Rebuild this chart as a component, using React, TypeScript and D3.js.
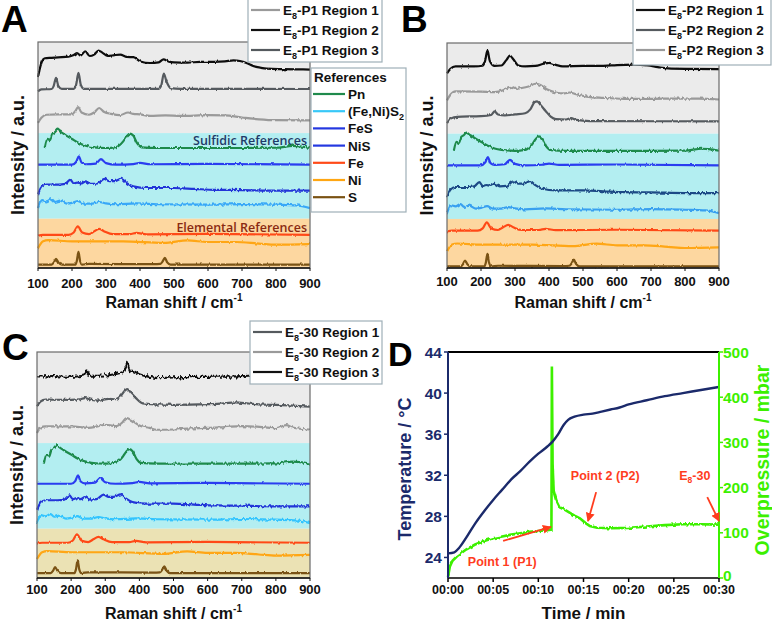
import React from 'react';
import * as d3 from 'd3';

type Pt = [number, number];

// ---------- Raman data (intensity in a.u., already offset for stacking) ----------
const ramanTicks = [100, 200, 300, 400, 500, 600, 700, 800, 900];

// panel A samples
const e8p1Region2: Pt[] = [[100,84.5],[105,88],[112,91.5],[120,92.8],[140,93],[160,93.2],[190,93.5],[205,94.2],[215,95.1],[225,94],[239,95.9],[252,93.8],[265,94.4],[278,96.2],[290,95.2],[305,93.8],[325,94.2],[342,94.4],[361,93.4],[381,93.3],[401,91.4],[430,90.7],[455,91],[469,92.3],[485,91.3],[500,91],[540,90.9],[577,91.2],[620,91.2],[650,91.4],[675,91.9],[694,91.6],[715,90.6],[733,89.4],[755,88.6],[773,88.2],[820,88],[860,87.9],[900,87.8]];
const e8p1Region3: Pt[] = [[100,78.2],[110,79],[140,79.2],[146,80.5],[153,84.1],[160,80.5],[170,79.3],[205,79.3],[212,81],[219,86.3],[226,81],[235,79.3],[455,79.3],[463,81],[470,86],[478,82.5],[490,79.6],[520,79.3],[900,79.2]];
const e8p1Region1: Pt[] = [[100,64.2],[110,66.5],[125,67.8],[160,68],[200,68],[210,69.5],[218,71.2],[228,68.8],[250,67.8],[265,68.8],[280,70.8],[295,69],[315,68.2],[340,67.6],[365,68.8],[380,68.2],[400,68],[430,67.3],[475,67.5],[520,67.3],[600,67.6],[650,67.5],[700,66.6],[750,65.8],[800,65.4],[900,65.3]];

// panel B samples
const e8p2Region1: Pt[] = [[100,86.5],[110,88.5],[125,89.6],[180,89.6],[205,89.9],[212,92],[219,96.7],[226,92],[240,89.8],[260,90],[275,92.5],[285,94.4],[295,92.8],[310,90],[330,89.6],[360,89.8],[385,90.8],[400,91.2],[420,90.3],[440,89.6],[500,89.8],[560,89.8],[600,90.2],[650,90.4],[690,90],[720,89.3],[750,88.7],[800,88.5],[900,88.4]];
const e8p2Region3: Pt[] = [[100,74.5],[110,77],[125,78.5],[200,78.4],[240,78.2],[265,79],[285,80.5],[300,79.6],[320,80],[340,80.7],[360,81.9],[375,81.3],[395,79.3],[420,78],[445,77.6],[460,78],[480,77.2],[510,76.2],[560,75.6],[620,75.2],[700,75.2],[780,75.3],[840,75.3],[900,74.9]];
const e8p2Region2: Pt[] = [[100,64.4],[112,66.5],[130,67.2],[200,67.5],[230,68],[240,69.6],[250,68.2],[270,67.8],[300,68.3],[330,68.8],[345,70.5],[358,73.8],[365,74.1],[375,72.5],[390,69.8],[405,67.3],[420,66.2],[450,66],[465,66.6],[480,65.8],[520,65.3],[900,65.2]];

// panel C samples
const e830Region3: Pt[] = [[100,89.2],[150,89.3],[200,89],[235,89.5],[245,91.4],[255,89.5],[300,89.6],[330,90.3],[350,91],[360,93],[365,95],[372,92],[385,91.4],[400,90.2],[430,89],[460,88.4],[480,88.6],[500,88.8],[550,88.9],[600,89],[650,89.1],[700,89.3],[720,89.5],[800,89.4],[900,89.3]];
const e830Region1: Pt[] = [[100,76],[110,78],[125,78.9],[200,78.8],[225,79],[240,79.6],[260,78.8],[280,78.5],[310,79.3],[330,79.1],[345,80.5],[358,83],[365,83.6],[375,82],[390,79.6],[410,77.3],[450,76.8],[500,76.6],[600,76.9],[650,77.3],[680,77.7],[720,77.2],[750,76.8],[800,76.6],[850,76.3],[900,75.8]];
const e830Region2: Pt[] = [[100,64.2],[110,66.5],[125,67.1],[200,67.1],[250,66.4],[280,67.2],[300,67.8],[330,67.2],[350,68.8],[362,70.8],[375,70],[400,67.5],[430,66.4],[450,65.6],[500,65.7],[550,66.2],[600,66.4],[650,66.8],[700,67.2],[760,66.8],[800,66.3],[830,67.6],[850,66.6],[900,65.7]];

// reference spectra relative to their own baseline
const refPn: Pt[] = [[120,0],[128,4],[135,3.5],[142,6.2],[150,7],[157,8.1],[165,7.3],[180,5.8],[200,4],[220,2.2],[240,1],[260,0.4],[300,0],[330,0.4],[350,2.8],[360,5],[370,6.4],[380,5.5],[392,2],[405,0.3],[450,0],[600,0],[700,0],[800,0.1],[850,0.9],[870,0.7],[900,0]];
const refNiS: Pt[] = [[100,0],[200,0],[212,1.2],[220,3.7],[228,1],[240,0.2],[270,0.5],[285,2.5],[300,0.7],[330,0],[380,0.3],[400,0.8],[430,0.2],[600,0.4],[900,0]];
const refFeS: Pt[] = [[100,-1.5],[110,1.5],[125,2.7],[160,2.7],[180,3],[195,4.9],[205,3.2],[215,3.6],[228,3.2],[240,4.1],[255,3],[275,3.2],[295,5.2],[310,4.2],[325,4.2],[345,5.3],[360,3.5],[380,1.9],[420,1.2],[500,1.2],[560,0.8],[620,0.4],[700,0.3],[800,0],[900,0]];
const refFeNiS2: Pt[] = [[100,-1.5],[112,2],[125,1.5],[140,2.5],[150,1.3],[165,1.8],[185,0.5],[200,0.8],[218,1.6],[235,0.5],[260,0.5],[280,1.2],[300,0.6],[330,0.2],[390,0.6],[450,0.2],[600,0],[700,0.3],[800,0],[860,-0.3],[900,-1.5]];
const refFe: Pt[] = [[100,-0.4],[115,0],[190,0],[205,1],[217,3.7],[230,1],[250,0.3],[265,1.5],[280,2.6],[295,1.5],[320,0.3],[370,0.3],[390,0.8],[420,0.2],[600,0.4],[900,0]];
const refNi: Pt[] = [[100,-1.5],[115,1.5],[130,2],[200,1.5],[350,1.5],[470,0.8],[540,1.9],[600,1.2],[680,1.2],[750,0.5],[800,0],[900,0.3]];
const refS: Pt[] = [[100,0],[140,0],[147,1],[153,2.6],[160,1],[170,0],[210,0],[214,1.5],[219,5.6],[224,1.5],[230,0],[250,0.3],[440,0.2],[460,0.3],[467,1.5],[473,3],[480,1],[490,0],[900,0]];

const refSpectra = [refPn, refNiS, refFeS, refFeNiS2, refFe, refNi, refS];
const refBaselinesA = [53.1, 45.7, 34.2, 28.0, 14.7, 10.3, 1.5];
const refBaselinesB = [52.1, 45.6, 33.3, 25.9, 16.6, 8.9, 0.7];
const refBaselinesC = [50.6, 41.7, 31.7, 25.8, 15.6, 9.9, 2.2];
const refNoise = ['med', 'light', 'med', 'med', 'light', 'light', 'light'];

const refLegendNames = ['Pn', '(Fe,Ni)S', 'FeS', 'NiS', 'Fe', 'Ni', 'S'];
const refLegendColors = ['#1f8a4c', '#38c8f8', '#2438e0', '#2438e0', '#ff4a18', '#ffa612', '#7a5212'];

const bandEdges = [100, 59.7, 21.8, 0];

// ---------- panel D data ----------
const timeTicks = [0, 5, 10, 15, 20, 25, 30];
const tempTicks = [24, 28, 32, 36, 40, 44];
const pressTicks = [0, 100, 200, 300, 400, 500];
const temperature: Pt[] = [[0,24.4],[0.7,24.5],[1.2,24.9],[2,25.9],[3,27.3],[4,28.5],[5,29.6],[6,30.6],[7,31.6],[8,32.4],[9,33.3],[10,34.1],[11,34.8],[11.6,35.3],[12.2,36.0],[12.8,36.9],[13.3,37.4],[14,37.7],[15,37.9],[16,38.0],[17,38.2],[18,38.4],[19,38.6],[20,38.9],[22,39.3],[24,39.7],[26,40.0],[28,40.3],[30,40.6]];
const overpressure: Pt[] = [[0,2],[0.2,25],[0.5,38],[1,48],[2,63],[3,74],[4,82],[5,88],[6,92],[7,96],[8,99],[9,102],[10,104],[11,106],[11.45,107],[11.5,468],[11.58,250],[11.7,193],[12,172],[12.4,156],[13,150],[13.5,144],[14,138],[14.6,132],[15.2,122],[15.7,115],[16.5,111],[18,110],[20,111],[22,114],[24,117],[26,119],[28,119],[30,118]];

const FONT = '"Liberation Sans", Arial, sans-serif';

type Sample = { data: Pt[]; color: string; noise: string };
type LegendItem = { label: string; color: string };

const Sub8 = ({ rest }: { rest: string }) => (
  <>
    <tspan>E</tspan>
    <tspan dy={3.5} fontSize={9}>8</tspan>
    <tspan dy={-3.5}>{rest}</tspan>
  </>
);

function RamanPanel(props: {
  x0: number; x1: number; y0: number; y1: number;
  letter: string; letterX: number; letterY: number;
  samples: Sample[]; baselines: number[]; refColors: string[];
  bandFills: string[]; legend: LegendItem[];
  legendBox: { x: number; y: number; w: number; h: number };
  tickOff: number; titleOff: number;
  showBandLabels?: boolean;
}) {
  const { x0, x1, y0, y1 } = props;
  const x = d3.scaleLinear().domain([100, 900]).range([x0, x1]);
  const y = d3.scaleLinear().domain([0, 100]).range([y1, y0]);
  const line = d3.line<Pt>().x(d => x(d[0])).y(d => y(d[1])).curve(d3.curveMonotoneX);
  const lb = props.legendBox;
  return (
    <g fontFamily={FONT}>
      {props.bandFills.map((f, i) => (
        <rect key={i} x={x0} y={y(bandEdges[i])} width={x1 - x0} height={y(bandEdges[i + 1]) - y(bandEdges[i])} fill={f} />
      ))}
      {props.showBandLabels && (
        <g fontFamily='"Open Sans", sans-serif' fontWeight={600} fontSize={12.5} textAnchor="end">
          <text x={x1 - 3} y={y(bandEdges[1]) + 12} fill="#1f3a68">Sulfidic References</text>
          <text x={x1 - 3} y={y(bandEdges[2]) + 13} fill="#8a2a12">Elemental References</text>
        </g>
      )}
      {refSpectra.map((s, i) => (
        <path key={'r' + i} d={line(s.map(p => [p[0], p[1] + props.baselines[i]] as Pt)) || ''} fill="none"
          stroke={props.refColors[i]} strokeWidth={2.2} filter={`url(#noise-${refNoise[i]})`} />
      ))}
      {props.samples.map((s, i) => (
        <path key={'s' + i} d={line(s.data) || ''} fill="none" stroke={s.color} strokeWidth={2.2} filter={`url(#noise-${s.noise})`} />
      ))}
      <rect x={x0} y={y0} width={x1 - x0} height={y1 - y0} fill="none" stroke="#6a6a6a" strokeWidth={1.2} />
      <line x1={x0} x2={x1} y1={y1} y2={y1} stroke="#111" strokeWidth={1.5} />
      {ramanTicks.map(t => (
        <g key={t}>
          <line x1={x(t)} x2={x(t)} y1={y1} y2={y1 + 3} stroke="#111" />
          <text x={x(t)} y={y1 + props.tickOff} textAnchor="middle" fontSize={13} fontWeight="bold" fill="#111">{t}</text>
        </g>
      ))}
      <text x={(x0 + x1) / 2} y={y1 + props.titleOff} textAnchor="middle" fontSize={16} fontWeight="bold" fill="#111">
        Raman shift / cm<tspan dy={-7} fontSize={10}>-1</tspan>
      </text>
      <text transform={`translate(${x0 - 20},${(y0 + y1) / 2}) rotate(-90)`} textAnchor="middle" dy="0.35em" fontSize={18} fontWeight="bold" fill="#111">
        Intensity / a.u.
      </text>
      <text x={props.letterX} y={props.letterY} fontSize={37} fontWeight="bold" fill="#000">{props.letter}</text>
      <rect x={lb.x} y={lb.y} width={lb.w} height={lb.h} fill="#fff" stroke="#9fb0b8" strokeWidth={1.2} />
      {props.legend.map((l, i) => {
        const cy = lb.y + 11 + i * 20;
        return (
          <g key={i}>
            <line x1={lb.x + 3} x2={lb.x + 32} y1={cy} y2={cy} stroke={l.color} strokeWidth={2.2} />
            <text x={lb.x + 35} y={cy + 5} fontSize={13.5} fontWeight="bold" fill="#111"><Sub8 rest={l.label} /></text>
          </g>
        );
      })}
    </g>
  );
}

function RefLegend() {
  const bx = 311, by = 68;
  return (
    <g fontFamily={FONT} fontWeight="bold">
      <rect x={bx} y={by} width={95} height={144} fill="#fff" stroke="#9fb0b8" strokeWidth={1.2} />
      <text x={bx + 3} y={by + 14} fontSize={13.5} fill="#111">References</text>
      {refLegendNames.map((n, i) => {
        const cy = by + 26 + i * 17.2;
        return (
          <g key={n}>
            <line x1={bx + 2} x2={bx + 34} y1={cy} y2={cy} stroke={refLegendColors[i]} strokeWidth={2.2} />
            <text x={bx + 37} y={cy + 5} fontSize={13.5} fill="#111">
              {n}{n.startsWith('(') && <tspan dy={3.5} fontSize={9}>2</tspan>}
            </text>
          </g>
        );
      })}
    </g>
  );
}

function PanelD() {
  const x0 = 448, x1 = 719, y0 = 352, y1 = 578;
  const x = d3.scaleLinear().domain([0, 30]).range([x0, x1]);
  const yT = d3.scaleLinear().domain([22, 44]).range([y1, y0]);
  const yP = d3.scaleLinear().domain([0, 500]).range([y1, y0]);
  const tLine = d3.line<Pt>().x(d => x(d[0])).y(d => yT(d[1])).curve(d3.curveMonotoneX);
  const pLine = d3.line<Pt>().x(d => x(d[0])).y(d => yP(d[1]));
  const navy = '#1b2a6b', green = '#3cf000', red = '#ff3c1e';
  const arrows = [
    { from: [6.1, 82], to: [11.4, 113], text: 'Point 1 (P1)', at: [2.2, 27] },
    { from: [16.4, 190], to: [15.5, 126], text: 'Point 2 (P2)', at: [13.6, 217] },
    { from: [28.7, 179], to: [30, 126], text: '', at: [25.6, 217] },
  ];
  return (
    <g fontFamily={FONT} fontWeight="bold">
      <path d={pLine(overpressure) || ''} fill="none" stroke={green} strokeWidth={2.6} filter="url(#noise-med)" />
      <path d={tLine(temperature) || ''} fill="none" stroke={navy} strokeWidth={2.4} />
      <line x1={x0} x2={x1} y1={y0} y2={y0} stroke="#000" strokeWidth={2} />
      <line x1={x0} x2={x1} y1={y1} y2={y1} stroke="#000" strokeWidth={1.5} />
      <line x1={x0} x2={x0} y1={y0} y2={y1} stroke={navy} strokeWidth={2} />
      <line x1={x1} x2={x1} y1={y0} y2={y1} stroke={green} strokeWidth={2} />
      {tempTicks.map(t => (
        <g key={t}>
          <line x1={x0 - 4} x2={x0} y1={yT(t)} y2={yT(t)} stroke={navy} strokeWidth={1.5} />
          <text x={x0 - 6} y={yT(t)} dy="0.36em" textAnchor="end" fontSize={15.5} fill={navy}>{t}</text>
        </g>
      ))}
      {pressTicks.map(t => (
        <g key={t}>
          <line x1={x1} x2={x1 + 4} y1={yP(t)} y2={yP(t)} stroke={green} strokeWidth={1.5} />
          <text x={x1 + 4} y={yP(t) - (t === 0 ? 3 : 0)} dy="0.36em" fontSize={15.5} fill={green}>{t}</text>
        </g>
      ))}
      {timeTicks.map(t => (
        <g key={t}>
          <line x1={x(t)} x2={x(t)} y1={y1} y2={y1 + 4} stroke="#000" strokeWidth={1.5} />
          <text x={x(t)} y={y1 + 16} textAnchor="middle" fontSize={12.5} fill="#111">{`00:${String(t).padStart(2, '0')}`}</text>
        </g>
      ))}
      <text x={(x0 + x1) / 2} y={619} textAnchor="middle" fontSize={17} fill="#111">Time / min</text>
      <text transform={`translate(405,${(y0 + y1) / 2 + 4}) rotate(-90)`} textAnchor="middle" dy="0.35em" fontSize={18} fill={navy}>Temperature / °C</text>
      <text transform={`translate(762,${(y0 + y1) / 2 - 5}) rotate(-90)`} textAnchor="middle" dy="0.35em" fontSize={19.5} fill={green}>Overpressure / mbar</text>
      {arrows.map((a, i) => (
        <g key={i}>
          <line x1={x(a.from[0])} y1={yP(a.from[1])} x2={x(a.to[0])} y2={yP(a.to[1])} stroke={red} strokeWidth={1.8} markerEnd="url(#arrowRed)" />
          <text x={x(a.at[0])} y={yP(a.at[1])} fontSize={12.5} fill={red}>
            {a.text || <><tspan>E</tspan><tspan dy={3} fontSize={8.5}>8</tspan><tspan dy={-3}>-30</tspan></>}
          </text>
        </g>
      ))}
      <text x={388} y={366} fontSize={34} fill="#000">D</text>
    </g>
  );
}

const greys = { black: '#111111', dark: '#555a5e', light: '#9a9a9a' };

export default function App() {
  const refColorsA = ['#1f8a4c', '#2a3cf0', '#2236d8', '#38a8f8', '#ff4a18', '#ffa612', '#7a5212'];
  const refColorsB = ['#1f8a4c', '#2a3cf0', '#1d4a86', '#38a0f0', '#ff4a18', '#ffa612', '#7a5212'];
  const refColorsC = ['#1f8a4c', '#2a3cf0', '#2236d8', '#30c4ff', '#ff4a18', '#ffa612', '#7a5212'];
  return (
    <svg width={772} height={622} style={{ position: 'absolute', left: 0, top: 0, background: '#fff' }}>
      <defs>
        {[['light', 2.5], ['med', 4], ['heavy', 7]].map(([id, sc]) => (
          <filter key={id} id={`noise-${id}`} filterUnits="userSpaceOnUse" x={0} y={0} width={772} height={622}>
            <feTurbulence type="fractalNoise" baseFrequency="0.45 0.12" numOctaves={2} seed={3} result="t" />
            <feColorMatrix in="t" type="matrix" values="0 0 0 0 0.5  0 1 0 0 0  0 0 1 0 0  0 0 0 0 1" result="m" />
            <feDisplacementMap in="SourceGraphic" in2="m" scale={sc as number} xChannelSelector="R" yChannelSelector="G" />
          </filter>
        ))}
        <marker id="arrowRed" viewBox="0 0 10 10" refX={9} refY={5} markerWidth={5} markerHeight={5} orient="auto">
          <path d="M0,0 L10,5 L0,10 z" fill="#ff3c1e" />
        </marker>
      </defs>
      <RamanPanel x0={38} x1={310} y0={42} y1={268} letter="A" letterX={1} letterY={32}
        samples={[
          { data: e8p1Region2, color: greys.black, noise: 'light' },
          { data: e8p1Region3, color: greys.dark, noise: 'light' },
          { data: e8p1Region1, color: greys.light, noise: 'light' },
        ]}
        baselines={refBaselinesA} refColors={refColorsA}
        bandFills={['#ebebeb', '#b3eef1', '#fdd7a0']}
        legend={[
          { label: '-P1 Region 1', color: greys.light },
          { label: '-P1 Region 2', color: greys.black },
          { label: '-P1 Region 3', color: greys.dark },
        ]}
        legendBox={{ x: 248, y: -1, w: 134, h: 63 }} tickOff={20} titleOff={40} showBandLabels />
      <RefLegend />
      <RamanPanel x0={447} x1={719} y0={43} y1={268} letter="B" letterX={401} letterY={32}
        samples={[
          { data: e8p2Region1, color: greys.black, noise: 'light' },
          { data: e8p2Region3, color: greys.light, noise: 'med' },
          { data: e8p2Region2, color: greys.dark, noise: 'light' },
        ]}
        baselines={refBaselinesB} refColors={refColorsB}
        bandFills={['#ebebeb', '#b3eef1', '#fdd7a0']}
        legend={[
          { label: '-P2 Region 1', color: greys.black },
          { label: '-P2 Region 2', color: greys.dark },
          { label: '-P2 Region 3', color: greys.light },
        ]}
        legendBox={{ x: 633, y: -1, w: 138, h: 66 }} tickOff={18} titleOff={40} />
      <RamanPanel x0={37} x1={310} y0={352} y1={578} letter="C" letterX={2} letterY={360}
        samples={[
          { data: e830Region3, color: greys.black, noise: 'heavy' },
          { data: e830Region1, color: greys.dark, noise: 'med' },
          { data: e830Region2, color: greys.light, noise: 'med' },
        ]}
        baselines={refBaselinesC} refColors={refColorsC}
        bandFills={['#ebebeb', '#b3eef1', '#ebe2b4']}
        legend={[
          { label: '-30 Region 1', color: greys.dark },
          { label: '-30 Region 2', color: greys.light },
          { label: '-30 Region 3', color: greys.black },
        ]}
        legendBox={{ x: 250, y: 321, w: 132, h: 63 }} tickOff={16} titleOff={41} />
      <PanelD />
    </svg>
  );
}
